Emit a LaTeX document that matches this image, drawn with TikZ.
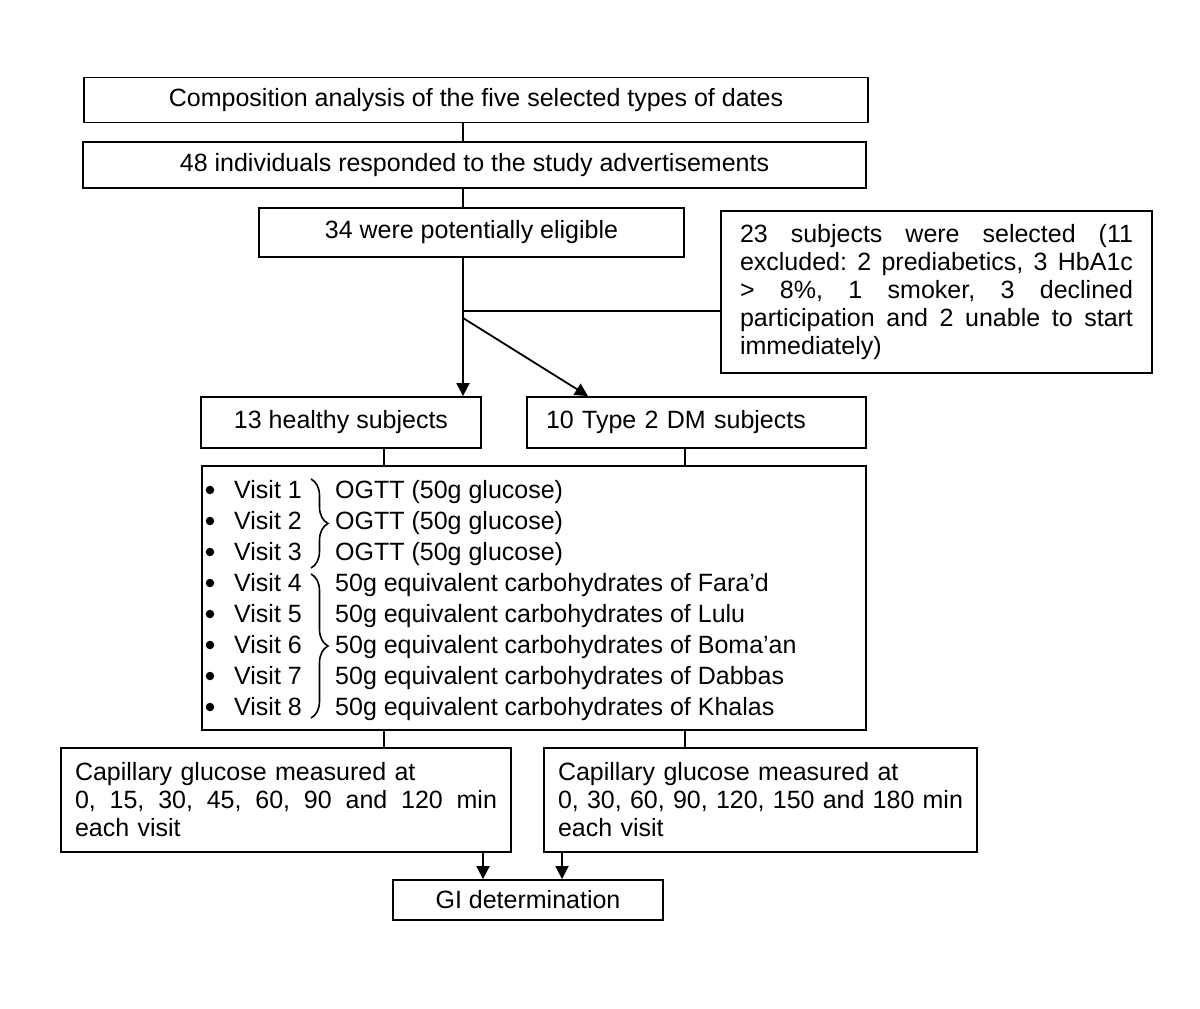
\documentclass[tikz,border=0pt]{standalone}
\usepackage{fontspec}
\setmainfont{Liberation Sans}
\usetikzlibrary{arrows.meta,decorations.pathreplacing}
\newcommand{\jline}[2]{\makebox[#1][l]{#2}}
\begin{document}
\begin{tikzpicture}[x=1pt,y=-1pt,
  box/.style={draw, line width=1.8pt, inner sep=0pt, align=center},
  conn/.style={line width=1.8pt},
  arr/.style={conn, -{Triangle[length=13pt,width=13pt]}},
  txt/.style={inner sep=0pt, anchor=base west},
  dot/.style={circle, fill, inner sep=0pt, minimum size=8.5pt},
  curly/.style={decorate, decoration={brace, amplitude=17pt}, line width=1.6pt},
  font=\fontsize{25}{28}\selectfont]
\useasboundingbox (0,0) rectangle (1200,1009);

\node[box, minimum width=784pt, minimum height=45pt] (b1) at (476,100) {Composition analysis of the five selected types of dates};
\node[box, minimum width=783pt, minimum height=46pt] (b2) at (474.5,165) {48 individuals responded to the study advertisements};
\node[box, minimum width=425pt, minimum height=49pt] (b3) at (471.5,232.5) {34 were potentially eligible};
\node[box, minimum width=431pt, minimum height=162pt, text width=393pt, align=left] (b4) at (936.5,292)
  {\jline{393pt}{23\hfill subjects\hfill were\hfill selected\hfill (11}\\
   \jline{393pt}{excluded:\hfill 2\hfill prediabetics,\hfill 3\hfill HbA1c}\\
   \jline{393pt}{>\hfill 8\%,\hfill 1\hfill smoker,\hfill 3\hfill declined}\\
   \jline{393pt}{participation\hfill and\hfill 2\hfill unable\hfill to\hfill start}\\
   immediately)};
\node[box, minimum width=280pt, minimum height=51pt] (b5) at (341,422.5) {13 healthy subjects};
\node[box, minimum height=51pt, text width=301pt, inner xsep=19pt, align=left] (b6) at (696.5,422.5) {10 Type 2 DM subjects};
\node[box, minimum width=664pt, minimum height=264pt] (b7) at (534,598) {};

% visit rows
\node[dot] (p1) at (210,490) {};
\node[dot] (p2) at (210,521) {};
\node[dot] (p3) at (210,552) {};
\node[dot] (p4) at (210,583) {};
\node[dot] (p5) at (210,614) {};
\node[dot] (p6) at (210,645) {};
\node[dot] (p7) at (210,676) {};
\node[dot] (p8) at (210,707) {};
\node[txt] (v1) at (234,498) {Visit 1};
\node[txt] (v2) at (234,529) {Visit 2};
\node[txt] (v3) at (234,560) {Visit 3};
\node[txt] (v4) at (234,591) {Visit 4};
\node[txt] (v5) at (234,622) {Visit 5};
\node[txt] (v6) at (234,653) {Visit 6};
\node[txt] (v7) at (234,684) {Visit 7};
\node[txt] (v8) at (234,715) {Visit 8};
\node[txt] (c1) at (335,498) {OGTT (50g glucose)};
\node[txt] (c2) at (335,529) {OGTT (50g glucose)};
\node[txt] (c3) at (335,560) {OGTT (50g glucose)};
\node[txt] (c4) at (335,591) {50g equivalent carbohydrates of Fara’d};
\node[txt] (c5) at (335,622) {50g equivalent carbohydrates of Lulu};
\node[txt] (c6) at (335,653) {50g equivalent carbohydrates of Boma’an};
\node[txt] (c7) at (335,684) {50g equivalent carbohydrates of Dabbas};
\node[txt] (c8) at (335,715) {50g equivalent carbohydrates of Khalas};
\draw[curly] (311,479) -- (311,568);
\draw[curly] (311,574) -- (311,718);

\node[box, minimum width=450pt, minimum height=104pt, text width=422pt, align=left] (b8) at (286,800)
  {Capillary glucose measured at\\
   \jline{422pt}{0,\hfill 15,\hfill 30,\hfill 45,\hfill 60,\hfill 90\hfill and\hfill 120\hfill min}\\
   each visit};
\node[box, minimum width=433pt, minimum height=104pt, text width=405pt, align=left] (b9) at (760.5,800)
  {Capillary glucose measured at\\
   \jline{405pt}{0,\hfill 30,\hfill 60,\hfill 90,\hfill 120,\hfill 150\hfill and\hfill 180\hfill min}\\
   each visit};
\node[box, minimum width=270pt, minimum height=40pt] (gi) at (528,900) {GI determination};

\coordinate (cx) at (463,0);
\coordinate (cl) at (384,0);
\coordinate (cr) at (685,0);
\coordinate (ga) at (483,0);
\coordinate (gb) at (562,0);
\coordinate (tx) at (588,0);
\coordinate (j1) at (463,311);
\coordinate (j2) at (463,318);

\draw[conn] (b1.south -| cx) -- (b2.north -| cx);
\draw[conn] (b2.south -| cx) -- (b3.north -| cx);
\draw[arr] (b3.south -| cx) -- (b5.north -| cx);
\draw[conn] (j1) -- (j1 -| b4.west);
\draw[arr] (j2) -- (b6.north -| tx);
\draw[conn] (b5.south -| cl) -- (b7.north -| cl);
\draw[conn] (b6.south -| cr) -- (b7.north -| cr);
\draw[conn] (b7.south -| cl) -- (b8.north -| cl);
\draw[conn] (b7.south -| cr) -- (b9.north -| cr);
\draw[arr] (b8.south -| ga) -- (gi.north -| ga);
\draw[arr] (b9.south -| gb) -- (gi.north -| gb);
\end{tikzpicture}
\end{document}
